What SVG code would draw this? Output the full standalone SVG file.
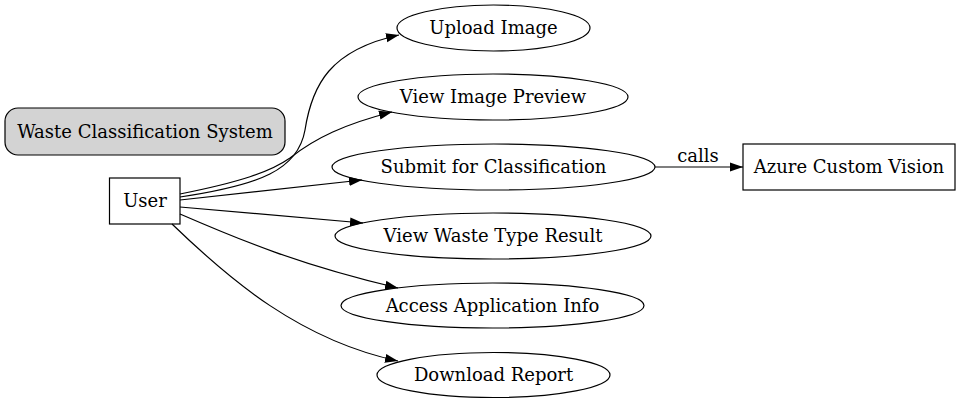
<svg xmlns="http://www.w3.org/2000/svg" width="960" height="403" viewBox="0 0 960 403">
<style>
text{font-family:"DejaVu Serif",serif;font-size:18px;fill:#000;text-anchor:middle}
.n{fill:#fff;stroke:#000;stroke-width:1.2}
.e{fill:none;stroke:#000;stroke-width:1.2}
</style>
<defs>
<marker id="ah" markerUnits="userSpaceOnUse" markerWidth="14" markerHeight="10" refX="13" refY="5" orient="auto">
<path d="M0,0.5 L13,5 L0,9.5 Z" fill="#000"/>
</marker>
</defs>
<rect width="960" height="403" fill="#fff"/>
<g id="system">
<rect x="5" y="108" width="280" height="47" rx="13" fill="#d3d3d3" stroke="#000" stroke-width="1.2"/>
<text x="145" y="138">Waste Classification System</text>
</g>
<g id="user">
<rect class="n" x="109.5" y="178" width="70.5" height="46"/>
<text x="145" y="207">User</text>
</g>
<g id="upload">
<ellipse class="n" cx="493.5" cy="28" rx="96.5" ry="23"/>
<text x="493.5" y="34">Upload Image</text>
</g>
<g id="preview">
<ellipse class="n" cx="493" cy="97" rx="135" ry="23"/>
<text x="493" y="103">View Image Preview</text>
</g>
<g id="submit">
<ellipse class="n" cx="493.5" cy="167" rx="161.5" ry="23"/>
<text x="493.5" y="173">Submit for Classification</text>
</g>
<g id="result">
<ellipse class="n" cx="493" cy="236" rx="158" ry="23"/>
<text x="493" y="242">View Waste Type Result</text>
</g>
<g id="info">
<ellipse class="n" cx="492.5" cy="305.5" rx="151.5" ry="22.5"/>
<text x="492.5" y="311.5">Access Application Info</text>
</g>
<g id="report">
<ellipse class="n" cx="493.5" cy="375" rx="116.5" ry="22.5"/>
<text x="493.5" y="381">Download Report</text>
</g>
<g id="azure">
<rect class="n" x="743" y="144" width="212" height="46"/>
<text x="849" y="173">Azure Custom Vision</text>
</g>
<g id="connectors">
<path class="e" marker-end="url(#ah)" d="M180,197 C260,185 298,170 305,130 C312,85 330,50 399,35"/>
<path class="e" marker-end="url(#ah)" d="M180,194 C240,182 270,172 290,158 C315,138 345,124 392,112"/>
<path class="e" marker-end="url(#ah)" d="M180,200 L362,180"/>
<path class="e" marker-end="url(#ah)" d="M180,207 L363,223"/>
<path class="e" marker-end="url(#ah)" d="M180,214 C240,240 300,265 398,288"/>
<path class="e" marker-end="url(#ah)" d="M172,224 C230,280 300,340 398,361"/>
<path class="e" marker-end="url(#ah)" d="M655,167 L743,167"/>
<text x="698" y="162">calls</text>
</g>
</svg>
